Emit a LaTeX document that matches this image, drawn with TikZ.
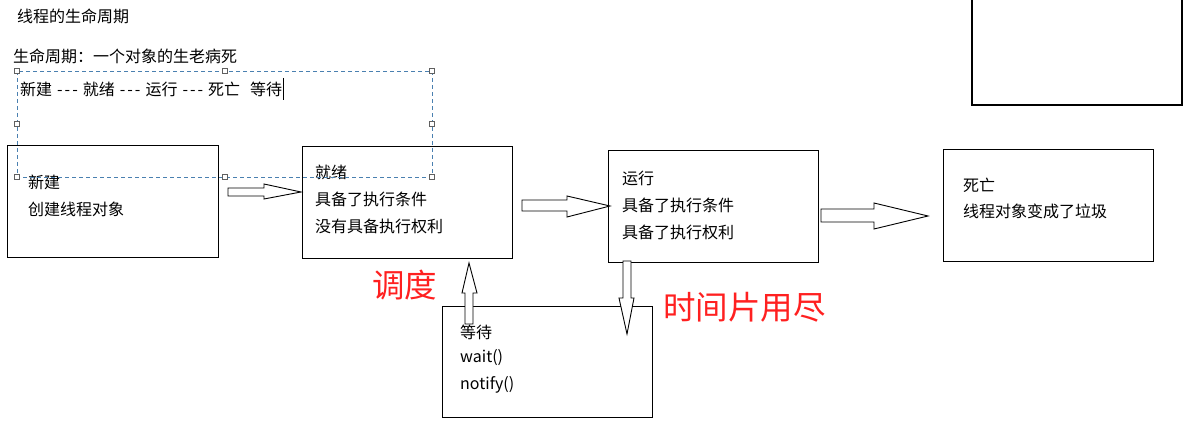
\documentclass[tikz,border=0pt]{standalone}
\usepackage{fontspec}
\setmainfont[Ligatures=NoCommon]{Noto Sans CJK SC}
\definecolor{selblue}{HTML}{4A80B0}
\definecolor{handlegray}{HTML}{606060}
\definecolor{hotred}{HTML}{FF2020}
\newcommand{\tdash}{{-}\kern2pt{-}\kern2pt{-}}
\begin{document}
\begin{tikzpicture}[x=1pt,y=-1pt,
  box/.style={draw=black,line width=1.2pt,inner sep=0pt,anchor=north west},
  txt/.style={anchor=west,inner sep=0pt,font=\fontsize{16}{19}\selectfont},
  bigred/.style={anchor=west,inner sep=0pt,text=hotred,font=\fontsize{32.5}{38}\selectfont},
  barrow/.style={draw=black,line width=0.9pt,fill=white,line join=miter},
  selrect/.style={draw=selblue,line width=0.8pt,dash pattern=on 4pt off 3pt},
  handle/.style={draw=handlegray,line width=0.7pt,fill=white}
]
\useasboundingbox (0,0) rectangle (1196,435);

% header texts
\node[txt] (title) at (17,16) {线程的生命周期};
\node[txt] (life) at (13,56) {生命周期：一个对象的生老病死};
\node[txt] (seq) at (20,89) {\spaceskip=5pt 新建 \tdash{} 就绪 \tdash{} 运行 \tdash{} 死亡\hspace{10pt}等待};
\draw[line width=1pt] (seq.east) ++(1,-11) -- ++(0,22);

% top right partial box
\draw[line width=1.2pt] (972,-2) -- (972,105) -- (1182,105) -- (1182,-2);

% state boxes
\node[box,minimum width=211pt,minimum height=112pt] (bnew) at (7,145) {};
\node[box,minimum width=210pt,minimum height=112pt] (bready) at (302,146) {};
\node[box,minimum width=210pt,minimum height=112pt] (brun) at (608,150) {};
\node[box,minimum width=210pt,minimum height=112pt] (bdead) at (943,149) {};
\node[box,minimum width=210pt,minimum height=111pt] (bwait) at (442,306) {};

% box texts
\node[txt] (t1a) at (28,182) {新建};
\node[txt] (t1b) at (28,209) {创建线程对象};
\node[txt] (t2a) at (315,172) {就绪};
\node[txt] (t2b) at (315,199) {具备了执行条件};
\node[txt] (t2c) at (315,226) {没有具备执行权利};
\node[txt] (t3a) at (622,178) {运行};
\node[txt] (t3b) at (622,205) {具备了执行条件};
\node[txt] (t3c) at (622,232) {具备了执行权利};
\node[txt] (t4a) at (963,185) {死亡};
\node[txt] (t4b) at (963,211) {线程对象变成了垃圾};
\node[txt] (t5a) at (460,332) {等待};
\node[txt] (t5b) at (460,358) {wait()};
\node[txt] (t5c) at (460,385) {notify()};

% red labels
\node[bigred] (sched) at (372,285) {调度};
\node[bigred] (slice) at (663,307) {时间片用尽};

% block arrows
\draw[barrow] (228,188) -- (264,188) -- (264,184) -- (301,192) -- (264,199) -- (264,196) -- (228,196) -- cycle;
\draw[barrow] (522,200) -- (567,200) -- (567,196) -- (610,206) -- (567,217) -- (567,211) -- (522,211) -- cycle;
\draw[barrow] (821,209) -- (874,209) -- (874,203) -- (928,216) -- (874,229) -- (874,222) -- (821,222) -- cycle;
\draw[barrow] (623,261) -- (631,261) -- (631,298) -- (634,298) -- (627,334) -- (619,298) -- (623,298) -- cycle;
\draw[barrow] (465,324) -- (465,293) -- (462,293) -- (469,263) -- (477,293) -- (473,293) -- (473,324) -- cycle;

% selection frame
\draw[selrect] (17,71) rectangle (432,177);
\foreach \hx/\hy in {17/71,225/71,432/71,17/124,432/124,17/177,225/177,432/177}
  \draw[handle] (\hx-2.5,\hy-2.5) rectangle (\hx+2.5,\hy+2.5);
\end{tikzpicture}
\end{document}
